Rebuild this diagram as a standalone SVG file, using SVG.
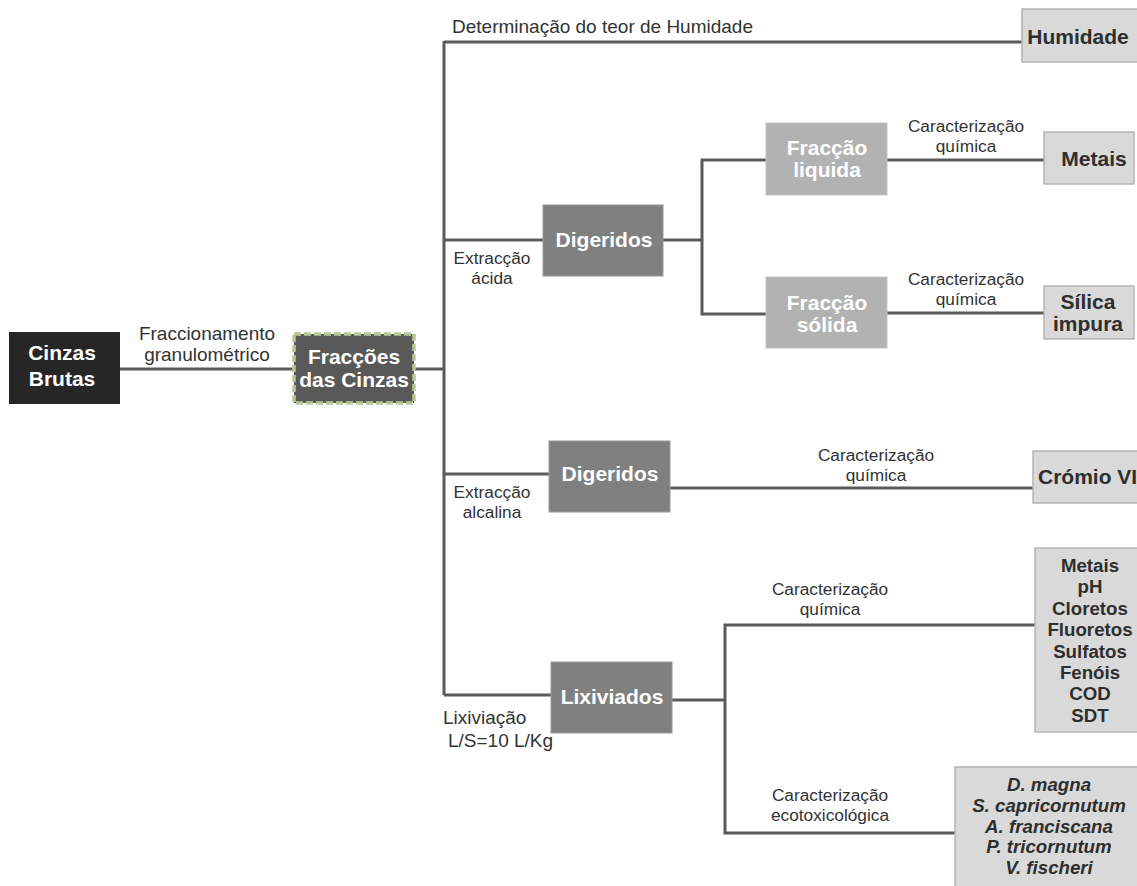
<svg xmlns="http://www.w3.org/2000/svg" width="1137" height="886" viewBox="0 0 1137 886">
  <style>
    .lbl { font-family: "Liberation Sans", Arial, sans-serif; font-size: 17.3px; fill: #333; }
    .big { font-size: 19px; }
    .nt  { font-family: "Liberation Sans", Arial, sans-serif; font-size: 21px; font-weight: bold; text-anchor: middle; }
    .nt.start { text-anchor: start; }
    .sm { font-size: 18.7px; }
    .w { fill: #fff; }
    .k { fill: #2e2e2e; }
    .it { font-style: italic; }
    .mid { text-anchor: middle; }
    .conn { stroke: #5a5a5a; stroke-width: 3; fill: none; }
    .res { fill: #d9d9d9; stroke: #b4b4b4; stroke-width: 1.5; }
    .dig { fill: #808080; stroke: #9a9a9a; }
    .frc { fill: #b2b2b2; stroke: #c4c4c4; }
  </style>

  <rect width="1137" height="886" fill="#fff"/>

  <!-- connectors -->
  <g id="connectors" class="conn">
    <path d="M120 369 H293"/>
    <path d="M414 369 H444"/>
    <path d="M444 41 V695"/>
    <path d="M444 42 H1022"/>
    <path d="M444 240 H543"/>
    <path d="M663 240 H702"/>
    <path d="M766 160 H702 V314 H766"/>
    <path d="M887 160 H1044"/>
    <path d="M887 313 H1044"/>
    <path d="M444 474 H549"/>
    <path d="M670 488 H1033"/>
    <path d="M444 695 H551"/>
    <path d="M672 700 H725"/>
    <path d="M1035 625 H725 V833 H955"/>
  </g>

  <!-- connector labels -->
  <g id="labels" class="lbl">
    <text x="207" y="340" class="mid big">Fraccionamento</text>
    <text x="207" y="361" class="mid big">granulométrico</text>
    <text x="452" y="33" class="big">Determinação do teor de Humidade</text>
    <text x="492" y="264" class="mid">Extracção</text>
    <text x="492" y="284" class="mid">ácida</text>
    <text x="966" y="132" class="mid">Caracterização</text>
    <text x="966" y="152" class="mid">química</text>
    <text x="966" y="285" class="mid">Caracterização</text>
    <text x="966" y="305" class="mid">química</text>
    <text x="492" y="498" class="mid">Extracção</text>
    <text x="492" y="518" class="mid">alcalina</text>
    <text x="876" y="461" class="mid">Caracterização</text>
    <text x="876" y="481" class="mid">química</text>
    <text x="830" y="595" class="mid">Caracterização</text>
    <text x="830" y="615" class="mid">química</text>
    <text x="830" y="801" class="mid">Caracterização</text>
    <text x="830" y="821" class="mid">ecotoxicológica</text>
    <text x="443" y="724" class="big">Lixiviação</text>
    <text x="448" y="747" class="big">L/S=10 L/Kg</text>
  </g>

  <g id="cinzas-brutas">
    <rect x="9" y="332" width="111" height="72" fill="#262626"/>
    <text x="62" y="360" class="nt w" font-size="22.5">Cinzas</text>
    <text x="62" y="386" class="nt w" font-size="22.5">Brutas</text>
  </g>

  <g id="fraccoes-cinzas">
    <rect x="294" y="334" width="120" height="69" fill="#595959" stroke="#b8c795" stroke-width="3.5" stroke-dasharray="7 3"/>
    <text x="354" y="364" class="nt w" font-size="19.5">Fracções</text>
    <text x="354" y="387" class="nt w" font-size="19.5">das Cinzas</text>
  </g>

  <g id="humidade">
    <rect x="1022" y="9" width="118" height="53" class="res"/>
    <text x="1078" y="44" class="nt k" font-size="20">Humidade</text>
  </g>

  <g id="digeridos-acida">
    <rect x="543" y="205" width="120" height="71" class="dig"/>
    <text x="604" y="247" class="nt w">Digeridos</text>
  </g>

  <g id="fraccao-liquida">
    <rect x="766" y="123" width="121" height="72" class="frc"/>
    <text x="827" y="155" class="nt w">Fracção</text>
    <text x="827" y="177" class="nt w">liquida</text>
  </g>

  <g id="fraccao-solida">
    <rect x="766" y="277" width="121" height="71" class="frc"/>
    <text x="827" y="310" class="nt w">Fracção</text>
    <text x="827" y="332" class="nt w">sólida</text>
  </g>

  <g id="metais">
    <rect x="1044" y="132" width="90" height="52" class="res"/>
    <text x="1094" y="166" class="nt k">Metais</text>
  </g>

  <g id="silica-impura">
    <rect x="1044" y="286" width="90" height="53" class="res"/>
    <text x="1088" y="309" class="nt k">Sílica</text>
    <text x="1088" y="331" class="nt k">impura</text>
  </g>

  <g id="digeridos-alcalina">
    <rect x="549" y="441" width="121" height="71" class="dig"/>
    <text x="610" y="481" class="nt w">Digeridos</text>
  </g>

  <g id="cromio-vi">
    <rect x="1033" y="451" width="110" height="52" class="res"/>
    <text x="1038" y="484" class="nt k start">Crómio VI</text>
  </g>

  <g id="lixiviados">
    <rect x="551" y="662" width="121" height="71" class="dig"/>
    <text x="612" y="704" class="nt w">Lixiviados</text>
  </g>

  <g id="parametros-quimicos" class="nt k sm">
    <rect x="1035" y="548" width="105" height="184" class="res"/>
    <text x="1090" y="572">Metais</text>
    <text x="1090" y="593">pH</text>
    <text x="1090" y="615">Cloretos</text>
    <text x="1090" y="636">Fluoretos</text>
    <text x="1090" y="658">Sulfatos</text>
    <text x="1090" y="679">Fenóis</text>
    <text x="1090" y="700">COD</text>
    <text x="1090" y="722">SDT</text>
  </g>

  <g id="especies-teste" class="nt k it sm">
    <rect x="955" y="767" width="185" height="125" class="res"/>
    <text x="1049" y="791">D. magna</text>
    <text x="1049" y="812">S. capricornutum</text>
    <text x="1049" y="833">A. franciscana</text>
    <text x="1049" y="853">P. tricornutum</text>
    <text x="1049" y="874">V. fischeri</text>
  </g>
</svg>
